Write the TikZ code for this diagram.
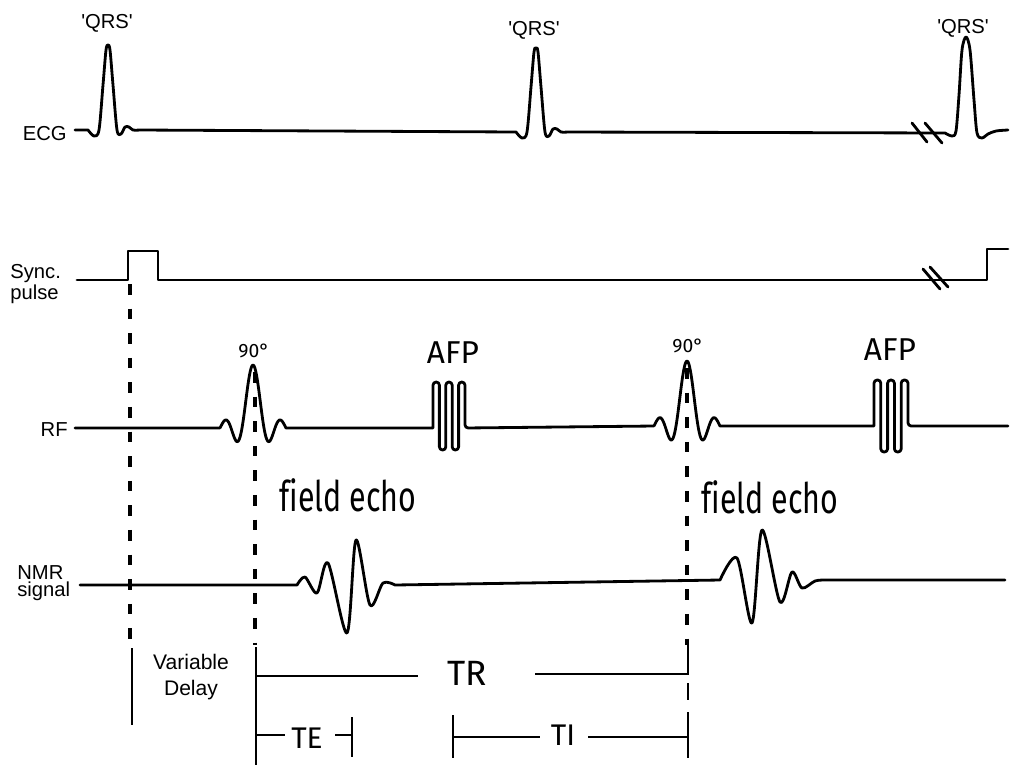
\documentclass[tikz,border=0pt]{standalone}
\usepackage{fontspec}
\usepackage{graphicx}
\setmainfont{Liberation Sans}
\newfontfamily\echofont{Fira Sans}[Ligatures=CommonOff]
\tikzset{
  wave/.style={line width=1.6pt,line join=round,line cap=round},
  trig/.style={line width=1.9pt,dash pattern=on 6pt off 8pt},
  bar/.style={line width=1.6pt},
  lab/.style={font=\fontsize{11.5}{10}\selectfont,align=left,inner sep=0pt},
  big/.style={font=\fontsize{#1}{#1}\selectfont\echofont,inner sep=0pt},
}
\begin{document}
\begin{tikzpicture}[x=0.02cm,y=-0.02cm]
\useasboundingbox (0,0) rectangle (1021,775);

% ECG trace with three QRS complexes
\draw[wave] (75,130) -- plot[smooth] coordinates {(88,130) (94,136) (99,130) (103,85) (106,50) (108,45) (110,50) (113,85) (117,130) (121,134) (125,127) (129,127) (133,130) (140,130)}
  -- plot[smooth] coordinates {(516,132) (522,138) (527,132) (531,87) (534,52) (536,48) (538,52) (541,87) (545,132) (549,136) (553,129) (557,129) (561,132) (568,132)}
  -- plot[smooth] coordinates {(945,133) (952,136) (956,131) (959,95) (962,50) (966,37) (970,50) (974,100) (977,133) (982,138) (988,134) (996,131) (1008,130)};
\draw[wave] (912,123) -- (927,142) (925,123) -- (942,143);

% sync pulse
\draw[wave] (77,280) -- (128,280) -- (128,251) -- (158,251) -- (158,280) -- (987,280) -- (987,249) -- (1008,249);
\draw[wave] (923,269) -- (940,289) (930,267) -- (948,287);

% RF: 90 degree pulses and AFP bursts
\draw[wave] (75,428) -- (220,428)
  -- plot[domain=-33:33,samples=80,smooth] ({253+\x},{428-63*sin(16.3636*\x)/(0.285599*\x)})
  -- (433,428) [rounded corners=1.8pt] -- (433,382) -- (439.4,382) -- (439.4,450) -- (445.8,450) -- (445.8,382) -- (452.2,382) -- (452.2,450) -- (458.6,450) -- (458.6,382) -- (465,382) -- (465,428) [sharp corners]
  -- (654,426)
  -- plot[domain=-33:33,samples=80,smooth] ({687+\x},{426-65*sin(16.3636*\x)/(0.285599*\x)})
  -- (874,426) [rounded corners=1.8pt] -- (874,380) -- (880.8,380) -- (880.8,452) -- (887.6,452) -- (887.6,380) -- (894.4,380) -- (894.4,452) -- (901.2,452) -- (901.2,380) -- (908,380) -- (908,426) [sharp corners]
  -- (1008,426);

% NMR signal: field echoes
\draw[wave] (80,585) -- plot[smooth] coordinates {(297,585) (305,577) (317,593) (328,563) (347,633) (356,540) (370,605) (383,583) (395,585)}
  -- plot[smooth] coordinates {(720,580) (737,558) (752,623) (762,530) (780,602) (792,572) (802,588) (815,581) (825,580)}
  -- (1005,580);

% trigger lines
\coordinate (t0) at (130,284);
\coordinate (t1) at (255,372);
\coordinate (t2) at (687,368);
\draw[trig] (t0) -- (t0 |- 0,645);
\draw[trig] (t1) -- (t1 |- 0,645);
\draw[trig] (t2) -- (t2 |- 0,645);

% timing bars
\draw[bar] (132,648) -- (132,725);
\draw[bar] (256,647) -- (256,765);
\draw[bar] (256,676) -- (418,676);
\draw[bar] (535,674) -- (688,674);
\draw[bar] (688,643) -- (688,675);
\draw[bar] (688,683) -- (688,700);
\draw[bar] (688,712) -- (688,758);
\draw[bar] (256,735) -- (285,735);
\draw[bar] (335,735) -- (352,735);
\draw[bar] (352,717) -- (352,757);
\draw[bar] (453,715) -- (453,758);
\draw[bar] (453,737) -- (540,737);
\draw[bar] (588,737) -- (688,737);

% labels
\node[lab,anchor=east] (ecg) at (67,134) {ECG};
\node[lab,anchor=west] (sync) at (10,284) {Sync.\\pulse};
\node[lab,anchor=east] (rf) at (68,430) {RF};
\node[lab,anchor=west] (nmr) at (17,583) {NMR\\signal};
\node[lab] (qrs1) at (107,23) {\textquotesingle QRS\textquotesingle};
\node[lab] (qrs2) at (534,30) {\textquotesingle QRS\textquotesingle};
\node[lab] (qrs3) at (963,28) {\textquotesingle QRS\textquotesingle};
\node[big=11] (deg1) at (254,351) {90°};
\node[big=11] (deg2) at (688,346) {90°};
\node[big=18] (afp1) at (453,353) {AFP};
\node[big=18] (afp2) at (890,350) {AFP};
\node[big=24] (echo1) at (348,495) {\scalebox{0.72}[1]{field echo}};
\node[big=24] (echo2) at (770,497) {\scalebox{0.72}[1]{field echo}};
\node[lab,align=center,font=\fontsize{12}{14.8}\selectfont] (vd) at (191,677) {Variable\\Delay};
\node[big=20] (tr) at (467,673) {TR};
\node[big=17] (te) at (307,738) {TE};
\node[big=17] (ti) at (563,735) {TI};
\end{tikzpicture}
\end{document}
